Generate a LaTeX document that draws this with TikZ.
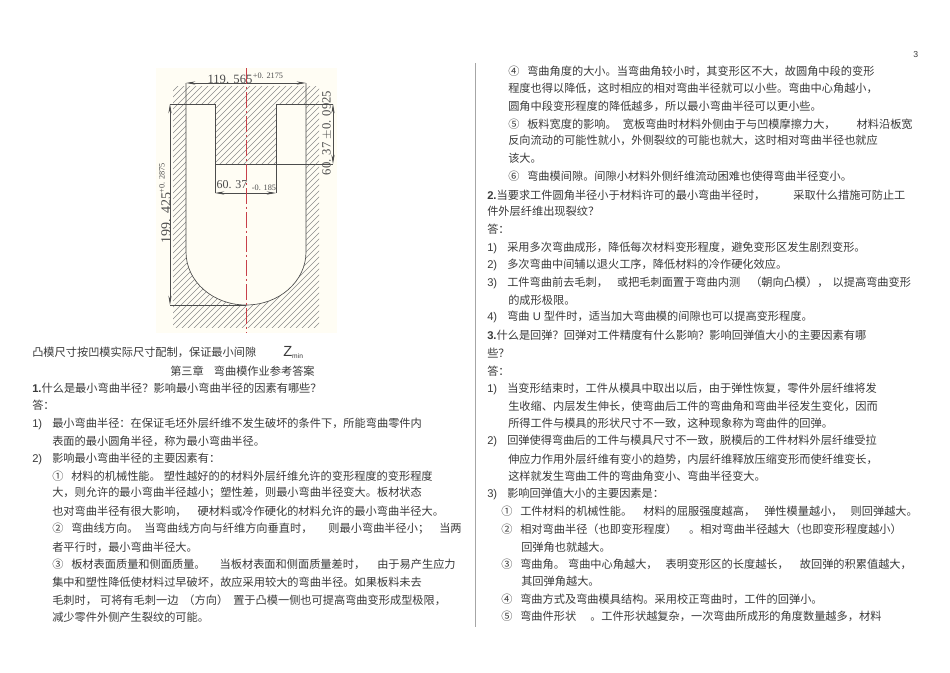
\documentclass[tikz,border=0pt]{standalone}
\usepackage{fontspec}
\setmainfont{Noto Sans CJK SC}
\newfontfamily\latfont{Liberation Sans}
\newfontfamily\dimfont{Liberation Serif}
\newcommand{\lat}[1]{{\latfont #1}}
\newcommand{\gap}[1]{\hspace*{#1\dimexpr0.75pt\relax}}
\newcommand{\numb}[1]{\makebox[15pt][l]{\lat{#1}}}
\newcommand{\subnumb}[1]{\makebox[14.25pt][l]{#1}}
\definecolor{paperbg}{HTML}{FFFDF4}
\definecolor{inkgray}{HTML}{3A3A3A}
\definecolor{axisred}{HTML}{C8404A}
\tikzset{
  txtline/.style={anchor=west,inner sep=0pt,text=inkgray,font=\fontsize{8.4pt}{10pt}\selectfont},
  dimline/.style={draw=black!70,line width=0.5pt},
  dimarrow/.style={dimline,{Stealth[length=7pt,width=2.4pt]}-{Stealth[length=7pt,width=2.4pt]}},
  dimtext/.style={inner sep=0pt,text=black!70,font=\dimfont\fontsize{9.5pt}{12pt}\selectfont},
  tolertext/.style={inner sep=0pt,text=black!70,font=\dimfont\fontsize{6.2pt}{7pt}\selectfont}
}
\usetikzlibrary{arrows.meta}
\begin{document}
\begin{tikzpicture}[x=0.75pt,y=-0.75pt]
  \useasboundingbox (0,0) rectangle (950,672);
  \fill[white] (0,0) rectangle (950,672);

  % die drawing
  \fill[paperbg] (156,68) rectangle (337,333);
  \begin{scope}
    \clip (173,86) rectangle (319,327);
    \foreach \hx in {0,6,...,396}
      \draw[black!45,line width=0.35pt] (\hx-82,340) -- (\hx+188,70);
  \end{scope}
  \fill[paperbg] (186,104) -- (186,252) arc[start angle=180,end angle=0,x radius=60,y radius=53]
    -- (306,104) -- (276,104) -- (276,164) -- (215,164) -- (215,104) -- cycle;
  \draw[dimline] (186,83) -- (186,252) arc[start angle=180,end angle=0,x radius=60,y radius=53]
    -- (306,83);

  \coordinate (topl) at (186,83);
  \coordinate (topr) at (306,83);
  \coordinate (shoulderl) at (170,104);
  \coordinate (blockl) at (215,104);
  \coordinate (blockr) at (276,104);
  \coordinate (shoulderr) at (333,104);
  \coordinate (blockbl) at (215,164);
  \coordinate (blockbr) at (276,164);
  \coordinate (endr) at (333,164);
  \coordinate (bottoml) at (170,305);
  \coordinate (bottomm) at (246,305);
  \coordinate (widthl) at (215,193);
  \coordinate (widthr) at (276,193);
  \coordinate (axistop) at (246.5,68);
  \coordinate (axisbot) at (246.5,333);

  \draw[dimline] (shoulderl) -- (blockl) -- (blockbl) -- (endr);
  \draw[dimline] (shoulderr) -- (blockr) -- (blockbr);
  \draw[dimline] (bottoml) -- (bottomm);
  \draw[dimline] (blockbl) -- (widthl);
  \draw[dimline] (blockbr) -- (widthr);
  \draw[dimarrow] (topl) -- (topr);
  \draw[dimarrow] (widthl) -- (widthr);
  \draw[dimarrow] (shoulderl) -- (bottoml);
  \draw[dimarrow] (shoulderr) -- (endr);
  \draw[axisred,line width=0.5pt,dash pattern=on 12pt off 2pt on 2pt off 2pt] (axistop) -- (axisbot);

  \node[dimtext] (dimtop) at (230,79) {119. 565};
  \node[tolertext] (toltop) at (268,76) {+0. 2175};
  \node[dimtext,font=\dimfont\fontsize{9pt}{12pt}\selectfont] (dimmid) at (232,185) {60. 37};
  \node[tolertext] (tolmid) at (264,188) {-0. 185};
  \node[dimtext,rotate=90,font=\dimfont\fontsize{10.5pt}{12pt}\selectfont] (dimleft) at (166,218) {199. 425};
  \node[tolertext,rotate=90] (tolleft) at (162,178) {+0. 2875};
  \node[dimtext,rotate=90] (dimright) at (327,133) {60. 37 $\pm$0. 0925};

  % page furniture
  \coordinate (ruletop) at (475,63);
  \coordinate (rulebot) at (475,627);
  \draw[black!35,line width=0.5pt] (ruletop) -- (rulebot);
  \node[txtline,font=\latfont\fontsize{6.5pt}{8pt}\selectfont] (pageno) at (913,55) {3};

  % left column
  \node[txtline] (la) at (32,352) {凸模尺寸按凹模实际尺寸配制，保证最小间隙\gap{27}{\latfont\fontsize{11pt}{11pt}\selectfont Z\raisebox{-1.5pt}{\fontsize{5pt}{5pt}\selectfont min}}};
  \node[txtline] (lb) at (170,371) {第三章\gap{10}弯曲模作业参考答案};
  \node[txtline] (lc) at (32,388) {\lat{\textbf{1.}}什么是最小弯曲半径？影响最小弯曲半径的因素有哪些？};
  \node[txtline] (ld) at (32,405) {答：};
  \node[txtline] (le) at (32,424) {\numb{1)}最小弯曲半径：在保证毛坯外层纤维不发生破坏的条件下，所能弯曲零件内};
  \node[txtline] (lf) at (52,441) {表面的最小圆角半径，称为最小弯曲半径。};
  \node[txtline] (lg) at (32,459) {\numb{2)}影响最小弯曲半径的主要因素有：};
  \node[txtline] (lh) at (52,476) {\subnumb{①}材料的机械性能。\gap{3}塑性越好的的材料外层纤维允许的变形程度的变形程度};
  \node[txtline] (li) at (52,493) {大，则允许的最小弯曲半径越小；塑性差，则最小弯曲半径变大。板材状态};
  \node[txtline] (lj) at (52,511) {也对弯曲半径有很大影响，\gap{11}硬材料或冷作硬化的材料允许的最小弯曲半径大。};
  \node[txtline] (lk) at (52,529) {\subnumb{②}弯曲线方向。\gap{6}当弯曲线方向与纤维方向垂直时，\gap{16}则最小弯曲半径小；\gap{10}当两};
  \node[txtline] (ll) at (52,547) {者平行时，最小弯曲半径大。};
  \node[txtline] (lm) at (52,564) {\subnumb{③}板材表面质量和侧面质量。\gap{14}当板材表面和侧面质量差时，\gap{12}由于易产生应力};
  \node[txtline] (ln) at (52,582) {集中和塑性降低使材料过早破坏，故应采用较大的弯曲半径。如果板料未去};
  \node[txtline] (lo) at (52,600) {毛刺时，\gap{3}可将有毛刺一边\gap{5}（方向）\gap{5}置于凸模一侧也可提高弯曲变形成型极限，};
  \node[txtline] (lp) at (52,617) {减少零件外侧产生裂纹的可能。};

  % right column
  \node[txtline] (ra) at (508,71) {\subnumb{④}弯曲角度的大小。当弯曲角较小时，其变形区不大，故圆角中段的变形};
  \node[txtline] (rb) at (508,88) {程度也得以降低，这时相应的相对弯曲半径就可以小些。弯曲中心角越小，};
  \node[txtline] (rc) at (508,106) {圆角中段变形程度的降低越多，所以最小弯曲半径可以更小些。};
  \node[txtline] (rd) at (508,124) {\subnumb{⑤}板料宽度的影响。\gap{6}宽板弯曲时材料外侧由于与凹模摩擦力大，\gap{21}材料沿板宽};
  \node[txtline] (re) at (508,140) {反向流动的可能性就小，外侧裂纹的可能也就大，这时相对弯曲半径也就应};
  \node[txtline] (rf) at (508,158) {该大。};
  \node[txtline] (rg) at (508,176) {\subnumb{⑥}弯曲模间隙。间隙小材料外侧纤维流动困难也使得弯曲半径变小。};
  \node[txtline] (rh) at (487,195) {\lat{\textbf{2.}}当要求工件圆角半径小于材料许可的最小弯曲半径时，\gap{28}采取什么措施可防止工};
  \node[txtline] (ri) at (487,211) {件外层纤维出现裂纹？};
  \node[txtline] (rj) at (487,229) {答：};
  \node[txtline] (rk) at (487,248) {\numb{1)}采用多次弯曲成形，降低每次材料变形程度，避免变形区发生剧烈变形。};
  \node[txtline] (rl) at (487,265) {\numb{2)}多次弯曲中间辅以退火工序，降低材料的冷作硬化效应。};
  \node[txtline] (rm) at (487,283) {\numb{3)}工件弯曲前去毛刺，\gap{9}或把毛刺面置于弯曲内测\gap{10}（朝向凸模），\gap{4}以提高弯曲变形};
  \node[txtline] (rn) at (508,300) {的成形极限。};
  \node[txtline] (ro) at (487,317) {\numb{4)}弯曲\lat{ U }型件时，适当加大弯曲模的间隙也可以提高变形程度。};
  \node[txtline] (rp) at (487,335) {\lat{\textbf{3.}}什么是回弹？回弹对工件精度有什么影响？影响回弹值大小的主要因素有哪};
  \node[txtline] (rq) at (487,353) {些？};
  \node[txtline] (rr) at (487,371) {答：};
  \node[txtline] (rs) at (487,389) {\numb{1)}当变形结束时，工件从模具中取出以后，由于弹性恢复，零件外层纤维将发};
  \node[txtline] (rt) at (508,406) {生收缩、内层发生伸长，使弯曲后工件的弯曲角和弯曲半径发生变化，因而};
  \node[txtline] (ru) at (508,423) {所得工件与模具的形状尺寸不一致，这种现象称为弯曲件的回弹。};
  \node[txtline] (rv) at (487,441) {\numb{2)}回弹使得弯曲后的工件与模具尺寸不一致，脱模后的工件材料外层纤维受拉};
  \node[txtline] (rw) at (508,459) {伸应力作用外层纤维有变小的趋势，内层纤维释放压缩变形而使纤维变长，};
  \node[txtline] (rx) at (508,476) {这样就发生弯曲工件的弯曲角变小、弯曲半径变大。};
  \node[txtline] (ry) at (487,494) {\numb{3)}影响回弹值大小的主要因素是：};
  \node[txtline] (rz) at (501,511) {\subnumb{①}工件材料的机械性能。\gap{11}材料的屈服强度越高，\gap{9}弹性模量越小，\gap{8}则回弹越大。};
  \node[txtline] (rza) at (501,529) {\subnumb{②}相对弯曲半径（也即变形程度）\gap{12}。相对弯曲半径越大（也即变形程度越小）};
  \node[txtline] (rzb) at (521,547) {回弹角也就越大。};
  \node[txtline] (rzc) at (501,564) {\subnumb{③}弯曲角。\gap{3}弯曲中心角越大，\gap{8}表明变形区的长度越长，\gap{11}故回弹的积累值越大，};
  \node[txtline] (rzd) at (521,581) {其回弹角越大。};
  \node[txtline] (rze) at (501,599) {\subnumb{④}弯曲方式及弯曲模具结构。采用校正弯曲时，工件的回弹小。};
  \node[txtline] (rzf) at (501,616) {\subnumb{⑤}弯曲件形状\gap{14}。工件形状越复杂，一次弯曲所成形的角度数量越多，材料};
\end{tikzpicture}
\end{document}
